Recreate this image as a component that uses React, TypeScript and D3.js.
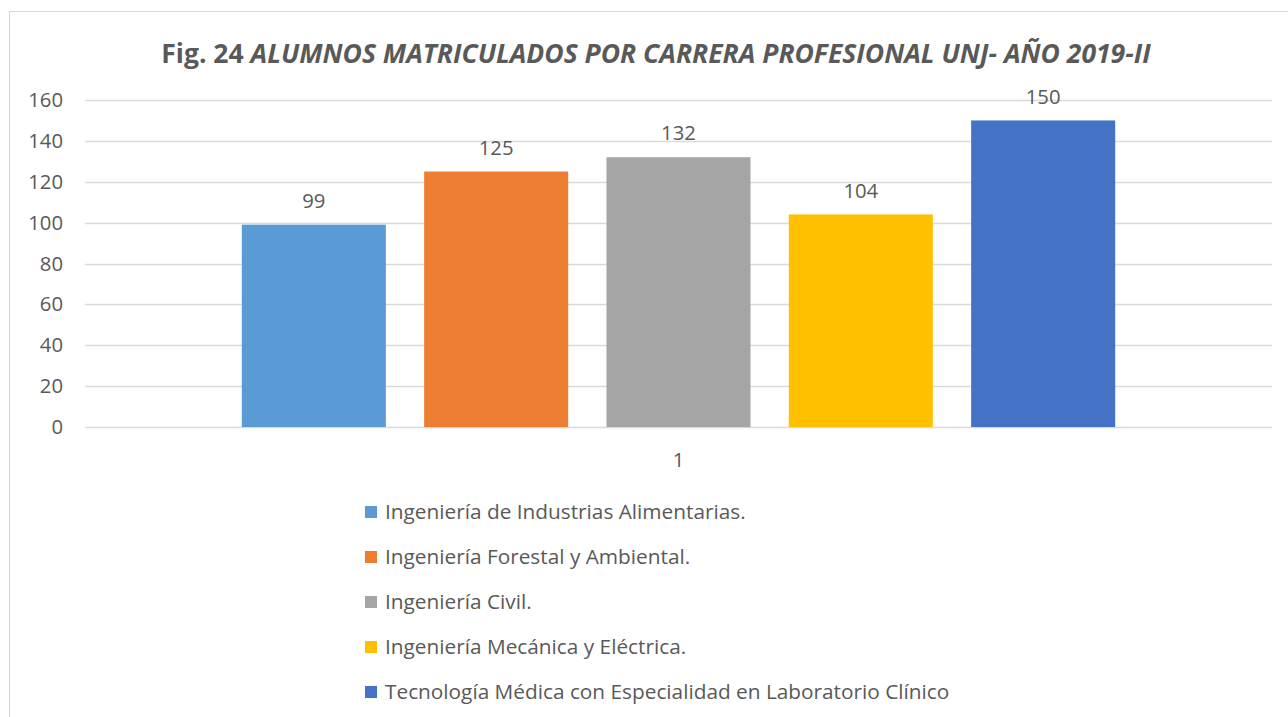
import React, { useEffect, useRef } from 'react';
import * as d3 from 'd3';

// --- Data ---
const careers = [
  'Ingeniería de Industrias Alimentarias.',
  'Ingeniería Forestal y Ambiental.',
  'Ingeniería Civil.',
  'Ingeniería Mecánica y Eléctrica.',
  'Tecnología Médica con Especialidad en Laboratorio Clínico',
];
const students = [99, 125, 132, 104, 150];
const colors = ['#5B9BD5', '#ED7D31', '#A5A5A5', '#FFC000', '#4472C4'];
const categories = ['1'];
const yTicks = [0, 20, 40, 60, 80, 100, 120, 140, 160];

const W = 1288;
const H = 717;
const FONT = '"Open Sans", "Noto Sans", sans-serif';
const TEXT = '#595959';
const FS = 20.3;

const App = () => {
  const ref = useRef<SVGSVGElement | null>(null);

  useEffect(() => {
    if (!ref.current) return;
    const svg = d3.select(ref.current);
    svg.selectAll('*').remove();

    // frame
    svg.append('rect').attr('x', 9.5).attr('y', 11.5).attr('width', W).attr('height', H)
      .attr('fill', '#fff').attr('stroke', '#d9d9d9').attr('stroke-width', 1);

    // title
    const title = svg.append('text').attr('x', 656).attr('y', 63).attr('text-anchor', 'middle')
      .attr('font-family', FONT).attr('font-size', 26.5).attr('font-weight', 'bold').attr('fill', TEXT);
    title.append('tspan').text('Fig. 24 ');
    title.append('tspan').attr('font-style', 'italic').text('ALUMNOS MATRICULADOS POR CARRERA PROFESIONAL UNJ- AÑO 2019-II');

    const left = 85, right = 1272, top = 100, bottom = 427;
    const y = d3.scaleLinear().domain([0, 160]).range([bottom, top]);
    const x0 = d3.scaleBand().domain(categories).range([left, right]).paddingOuter(0.151).paddingInner(0);
    const x1 = d3.scaleBand().domain(careers).range([0, x0.bandwidth()]).paddingInner(0.21).paddingOuter(0.105);

    // gridlines
    svg.append('g').selectAll('line').data(yTicks).enter().append('line')
      .attr('x1', left).attr('x2', right)
      .attr('y1', d => Math.round(y(d)) + 0.5).attr('y2', d => Math.round(y(d)) + 0.5)
      .attr('stroke', '#d9d9d9').attr('stroke-width', 1.3);

    // y labels
    svg.append('g').selectAll('text').data(yTicks).enter().append('text')
      .attr('x', 63).attr('y', d => y(d)).attr('dy', '0.35em').attr('text-anchor', 'end')
      .attr('font-family', FONT).attr('font-size', FS).attr('fill', TEXT).text(d => d);

    // bars
    const g = svg.append('g').attr('transform', `translate(${x0('1')},0)`);
    g.selectAll('rect').data(careers).enter().append('rect')
      .attr('x', d => x1(d) as number).attr('width', x1.bandwidth())
      .attr('y', (d, i) => y(students[i])).attr('height', (d, i) => bottom - y(students[i]))
      .attr('fill', (d, i) => colors[i]);

    g.selectAll('text.val').data(careers).enter().append('text').attr('class', 'val')
      .attr('x', d => (x1(d) as number) + x1.bandwidth() / 2)
      .attr('y', (d, i) => y(students[i]) - 24).attr('dy', '0.35em').attr('text-anchor', 'middle')
      .attr('font-family', FONT).attr('font-size', FS).attr('fill', TEXT)
      .text((d, i) => students[i]);

    // x category label
    svg.append('text').attr('x', (x0('1') as number) + x0.bandwidth() / 2).attr('y', 460).attr('dy', '0.35em')
      .attr('text-anchor', 'middle').attr('font-family', FONT).attr('font-size', FS).attr('fill', TEXT).text('1');

    // legend
    const legendY = d3.scalePoint().domain(careers).range([512, 692]);
    const lg = svg.append('g').selectAll('g').data(careers).enter().append('g')
      .attr('transform', d => `translate(365,${legendY(d)})`);
    lg.append('rect').attr('x', 0).attr('y', -6).attr('width', 12).attr('height', 12)
      .attr('fill', (d, i) => colors[i]);
    lg.append('text').attr('x', 20).attr('y', 0).attr('dy', '0.35em')
      .attr('font-family', FONT).attr('font-size', 20.8).attr('fill', TEXT).text(d => d);
  }, []);

  return (
    <div style={{ position: 'fixed', left: 0, top: 0, width: W, height: H, background: '#fff' }}>
      <svg ref={ref} width={W} height={H} />
    </div>
  );
};

export default App;
